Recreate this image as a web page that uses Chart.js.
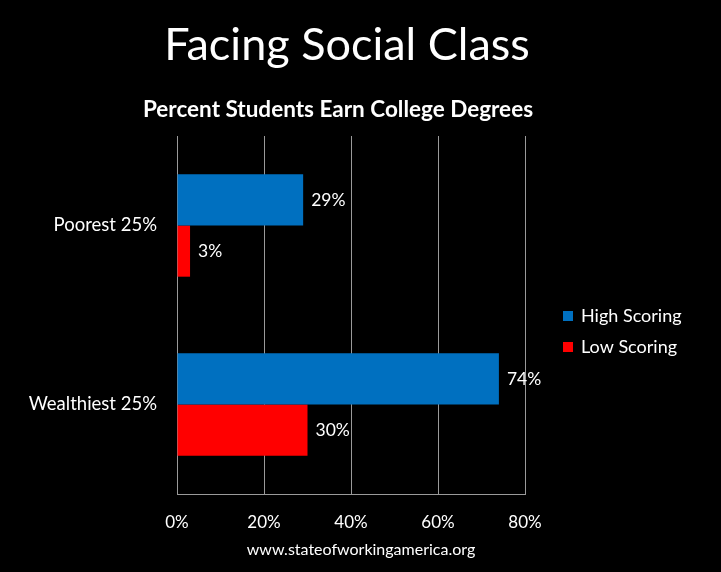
<!DOCTYPE html>
<html>
<head>
<meta charset="utf-8">
<script src="https://cdn.jsdelivr.net/npm/chart.js@4.4.1/dist/chart.umd.min.js"></script>
<style>
  html, body { margin: 0; padding: 0; background: #000; }
  #wrap { width: 721px; height: 572px; position: relative; }
</style>
</head>
<body>
<div id="wrap"><canvas id="chart"></canvas></div>
<script>
const chartTitle = 'Facing Social Class';
const chartSubtitle = 'Percent Students Earn College Degrees';
const sourceNote = 'www.stateofworkingamerica.org';

const categories = ['Poorest 25%', 'Wealthiest 25%'];
const seriesNames = ['High Scoring', 'Low Scoring'];
const highScoring = [29, 74];
const lowScoring = [3, 30];
const seriesColors = ['#0070C0', '#FF0000'];

const FONT = 'Lato, "Noto Sans", sans-serif';
const GRID = '#9a9a9a';

// titles, value labels, legend and footer are drawn by hand
const overlay = {
  id: 'overlay',
  afterDatasetsDraw(chart) {
    const ctx = chart.ctx;
    ctx.save();
    ctx.fillStyle = '#fff';
    ctx.textBaseline = 'middle';

    // value labels at the end of each bar
    ctx.font = '17.5px ' + FONT;
    ctx.textAlign = 'left';
    chart.data.datasets.forEach((ds, i) => {
      chart.getDatasetMeta(i).data.forEach((bar, j) => {
        ctx.fillText(ds.data[j] + '%', bar.x + 8, bar.y);
      });
    });

    // titles
    ctx.textAlign = 'center';
    ctx.font = '45px ' + FONT;
    ctx.fillText(chartTitle, 347, 45);
    ctx.font = 'bold 22.5px ' + FONT;
    ctx.fillText(chartSubtitle, 338, 110);

    // footer
    ctx.font = '16px ' + FONT;
    ctx.fillText(sourceNote, 361, 550);

    // legend
    ctx.textAlign = 'left';
    ctx.font = '18px ' + FONT;
    chart.data.datasets.forEach((ds, i) => {
      const y = 316 + i * 31;
      ctx.fillStyle = ds.backgroundColor;
      ctx.fillRect(563, y - 5, 10, 10);
      ctx.fillStyle = '#fff';
      ctx.fillText(ds.label, 581, y);
    });
    ctx.restore();
  }
};

new Chart(document.getElementById('chart'), {
  type: 'bar',
  data: {
    labels: categories,
    datasets: [
      { label: seriesNames[0], data: highScoring, backgroundColor: seriesColors[0] },
      { label: seriesNames[1], data: lowScoring, backgroundColor: seriesColors[1] }
    ]
  },
  options: {
    indexAxis: 'y',
    responsive: true,
    maintainAspectRatio: false,
    animation: false,
    layout: { padding: { top: 136, right: 196, bottom: 38, left: 0 } },
    datasets: {
      bar: { categoryPercentage: 0.572, barPercentage: 1.0 }
    },
    plugins: {
      legend: { display: false },
      tooltip: { enabled: false }
    },
    scales: {
      x: {
        min: 0,
        max: 80,
        ticks: {
          stepSize: 20,
          color: '#fff',
          font: { family: FONT, size: 17 },
          padding: 18,
          callback: (v) => v + '%'
        },
        grid: { color: GRID, drawTicks: false, lineWidth: 1 },
        border: { display: true, color: GRID, width: 1 },
        afterFit: (scale) => { scale.height = 40; }
      },
      y: {
        ticks: {
          color: '#fff',
          font: { family: FONT, size: 18.5 },
          padding: 20
        },
        grid: { display: false, drawTicks: false },
        border: { display: true, color: GRID, width: 1 },
        afterFit: (scale) => { scale.width = 177; }
      }
    }
  },
  plugins: [overlay]
});
</script>
</body>
</html>
